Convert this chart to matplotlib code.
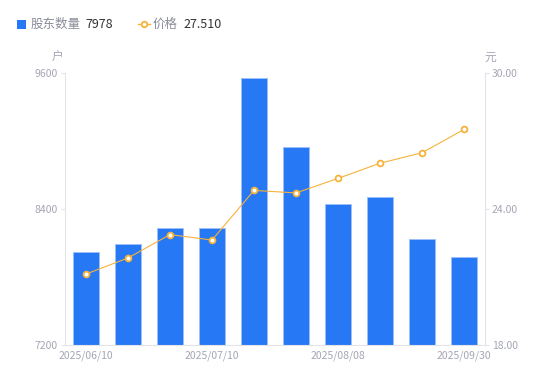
import matplotlib.pyplot as plt
from matplotlib.lines import Line2D
from matplotlib.patches import Rectangle

plt.rcParams['font.family'] = ['Noto Sans CJK SC', 'DejaVu Sans']

dates = ["2025/06/10", "2025/06/20", "2025/06/30", "2025/07/10", "2025/07/20",
         "2025/07/31", "2025/08/08", "2025/08/20", "2025/08/31", "2025/09/30"]
holders = [8021, 8091, 8232, 8232, 9556, 8947, 8444, 8506, 8135, 7978]
prices = [21.13, 21.84, 22.87, 22.63, 24.82, 24.71, 25.35, 26.02, 26.48, 27.51]

bar_color = "#2778F4"
line_color = "#F7B23B"
grey = "#A4A6B3"
axis_grey = "#E3E4E8"

fig = plt.figure(figsize=(5.5, 3.81), dpi=100)
ax = fig.add_axes([65 / 550, 36 / 381, 420 / 550, 272 / 381])
ax2 = ax.twinx()

x = list(range(len(dates)))
ax.bar(x, [h - 7200 for h in holders], bottom=7200, width=0.6, color=bar_color,
       edgecolor="#9CC0F8", linewidth=0.7, zorder=2)
ax.set_xlim(-0.5, len(dates) - 0.5)
ax.set_ylim(7200, 9600)
ax.set_yticks([7200, 8400, 9600])
ax.set_xticks(x[::3])
ax.set_xticklabels(dates[::3])

ax2.plot(x, prices, color=line_color, linewidth=0.8, marker="o", markersize=4.2,
         markerfacecolor="white", markeredgecolor=line_color, markeredgewidth=1.3, zorder=3)
ax2.set_ylim(18, 30)
ax2.set_yticks([18, 24, 30])
ax2.set_yticklabels(["18.00", "24.00", "30.00"])

for a in (ax, ax2):
    for s in a.spines.values():
        s.set_visible(False)
    a.tick_params(colors=grey, labelsize=7.5, length=3, width=0.8, color=axis_grey)
ax.spines['left'].set_visible(True)
ax.spines['left'].set_color(axis_grey)
ax.spines['bottom'].set_visible(True)
ax.spines['bottom'].set_color(axis_grey)
ax2.spines['right'].set_visible(True)
ax2.spines['right'].set_color(axis_grey)
ax.tick_params(axis='x', length=0, pad=4)
ax.tick_params(axis='y', pad=2)
ax2.tick_params(axis='y', pad=2)

fig.text(58 / 550, 1 - 57 / 381, "户", color=grey, fontsize=8.5, ha="center", va="center")
fig.text(490 / 550, 1 - 57 / 381, "元", color=grey, fontsize=8.5, ha="center", va="center")

# legend
fig.patches.append(Rectangle((17 / 550, 1 - 29 / 381), 9 / 550, 9 / 381, transform=fig.transFigure,
                             facecolor=bar_color, edgecolor="none"))
fig.text(31 / 550, 1 - 24 / 381, "股东数量", color="#8A8C99", fontsize=9, va="center")
fig.text(85 / 550, 1 - 24 / 381, str(holders[-1]), color="#333333", fontsize=9, va="center")
fig.lines.append(Line2D([138 / 550, 150 / 550], [1 - 24 / 381, 1 - 24 / 381], transform=fig.transFigure,
                        color=line_color, linewidth=1, zorder=1))
fig.lines.append(Line2D([144 / 550], [1 - 24 / 381], transform=fig.transFigure,
                        color=line_color, linestyle="none", marker="o", markersize=4,
                        markerfacecolor="white", markeredgecolor=line_color, markeredgewidth=1.3))
fig.text(153 / 550, 1 - 24 / 381, "价格", color="#8A8C99", fontsize=9, va="center")
fig.text(183 / 550, 1 - 24 / 381, "%.3f" % prices[-1], color="#333333", fontsize=9, va="center")

fig.savefig("out.png", dpi=100)
